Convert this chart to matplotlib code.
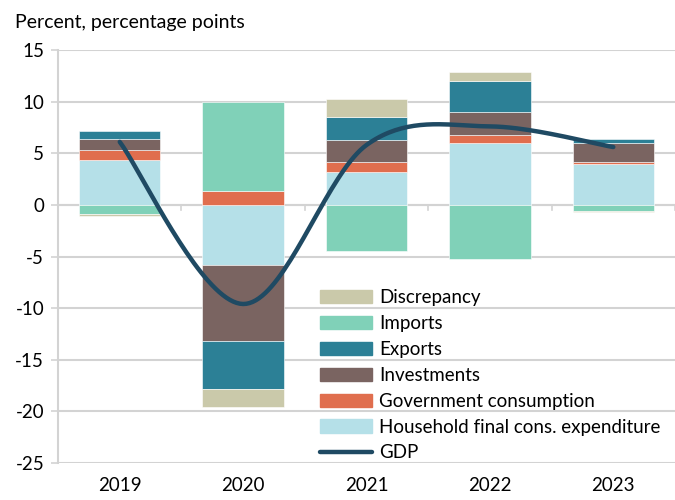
import numpy as np
import matplotlib
matplotlib.use("Agg")
import matplotlib.pyplot as plt
from matplotlib.patches import Patch
from matplotlib.lines import Line2D

plt.rcParams['font.family'] = ['Lato', 'DejaVu Sans']
plt.rcParams['axes.unicode_minus'] = False

# Data (percentage point contributions)
years = ['2019', '2020', '2021', '2022', '2023']
household = [4.3, -5.8, 3.15, 6.0, 4.0]
government = [1.0, 1.3, 1.05, 0.78, 0.17]
investments = [1.05, -7.4, 2.1, 2.2, 1.85]
exports = [0.8, -4.65, 2.2, 3.0, 0.4]
imports = [-0.9, 8.7, -4.5, -5.27, -0.55]
discrepancy = [-0.2, -1.75, 1.8, 0.9, -0.15]
gdp = [6.1, -9.6, 5.8, 7.6, 5.6]

series = [
    ('Household final cons. expenditure', household, '#b5e0e8'),
    ('Government consumption', government, '#e06e4e'),
    ('Investments', investments, '#7a6461'),
    ('Exports', exports, '#2c8096'),
    ('Imports', imports, '#80d1b8'),
    ('Discrepancy', discrepancy, '#cac9aa'),
]
gdp_color = '#1f4a63'


def smooth(xs, ys, n=40):
    # Bezier smoothing similar to spreadsheet "smoothed line"
    xs = np.asarray(xs, float)
    ys = np.asarray(ys, float)
    px = np.concatenate([[xs[0]], xs, [xs[-1]]])
    py = np.concatenate([[ys[0]], ys, [ys[-1]]])
    out_x, out_y = [], []
    t = np.linspace(0, 1, n)
    for i in range(1, len(px) - 2):
        p0 = np.array([px[i], py[i]])
        p3 = np.array([px[i + 1], py[i + 1]])
        p1 = p0 + (np.array([px[i + 1], py[i + 1]]) - np.array([px[i - 1], py[i - 1]])) / 6
        p2 = p3 - (np.array([px[i + 2], py[i + 2]]) - np.array([px[i], py[i]])) / 6
        b = ((1 - t) ** 3)[:, None] * p0 + (3 * (1 - t) ** 2 * t)[:, None] * p1 \
            + (3 * (1 - t) * t ** 2)[:, None] * p2 + (t ** 3)[:, None] * p3
        out_x.extend(b[:, 0])
        out_y.extend(b[:, 1])
    return out_x, out_y


fig = plt.figure(figsize=(6.75, 5), dpi=100)
ax = fig.add_axes([0.086, 0.074, 0.914, 0.826])

x = np.arange(len(years))
pos_base = np.zeros(len(years))
neg_base = np.zeros(len(years))
for name, vals, col in series:
    v = np.array(vals)
    bottoms = np.where(v >= 0, pos_base, neg_base)
    ax.bar(x, v, bottom=bottoms, width=0.66, color=col, edgecolor='white',
           linewidth=0.4, zorder=2)
    pos_base += np.where(v >= 0, v, 0)
    neg_base += np.where(v < 0, v, 0)

sx, sy = smooth(x, gdp)
ax.plot(sx, sy, color=gdp_color, lw=3.2, solid_capstyle='round', zorder=3)

ax.set_xlim(-0.5, len(years) - 0.5)
ax.set_ylim(-25, 15)
ax.set_yticks(np.arange(-25, 16, 5))
ax.grid(axis='y', color='#d3d3d3', lw=1.5, zorder=0)
ax.set_axisbelow(True)
for s in ['top', 'right', 'bottom']:
    ax.spines[s].set_visible(False)
ax.spines['left'].set_color('#d3d3d3')
ax.spines['left'].set_linewidth(1.5)
ax.tick_params(axis='y', length=5, width=1.2, color='#d3d3d3', labelsize=13.5,
               pad=5, labelcolor='#000000')

# category axis line at zero with tick marks between categories
ax.axhline(0, color='#d3d3d3', lw=1.5, zorder=1)
for b in np.arange(-0.5, len(years), 1.0):
    ax.plot([b, b], [0, -0.45], color='#d3d3d3', lw=1.2, zorder=1, clip_on=False)
ax.set_xticks(x)
ax.set_xticklabels(years)
ax.tick_params(axis='x', length=0, labelsize=13.5, pad=10)

fig.text(0.022, 0.955, 'Percent, percentage points', fontsize=14, va='center')

handles = [Patch(color=c) for _, _, c in series[::-1]]
labels = [n for n, _, _ in series[::-1]]
handles.append(Line2D([0], [0], color=gdp_color, lw=3.2, solid_capstyle='round'))
labels.append('GDP')
ax.legend(handles, labels, loc='lower left', bbox_to_anchor=(0.41, -0.019),
          frameon=False, fontsize=13.5, handlelength=2.75, handleheight=0.7,
          handletextpad=0.4, labelspacing=0.475, borderpad=0)

fig.savefig('out.png', dpi=100)
